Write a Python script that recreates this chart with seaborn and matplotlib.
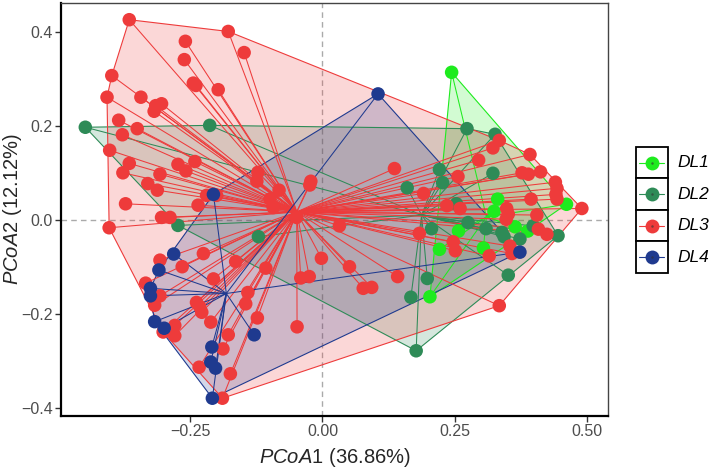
import matplotlib
matplotlib.use('Agg')
import warnings
warnings.filterwarnings("ignore")

import numpy as np
import pandas as pd
import matplotlib.pyplot as plt
import seaborn as sns
from matplotlib.collections import LineCollection
from matplotlib.patches import Rectangle

# ==========================================
# 1. DATA (PCoA scores)
# ==========================================
dl1_x = [0.244, 0.331, 0.461, 0.324, 0.257, 0.221, 0.304, 0.203, 0.364, 0.388]
dl1_y = [0.314, 0.044, 0.033, 0.018, -0.024, -0.063, -0.060, -0.164, -0.015, -0.024]

dl2_x = [-0.448, -0.213, -0.273, -0.121, 0.273, 0.326, 0.322, 0.221, 0.227, 0.160,
         0.253, 0.206, 0.275, 0.309, 0.339, 0.343, 0.373, 0.398, 0.445, 0.351,
         0.198, 0.167, 0.177]
dl2_y = [0.197, 0.201, -0.012, -0.036, 0.194, 0.182, 0.099, 0.107, 0.079, 0.068,
         0.034, -0.019, -0.006, -0.019, -0.027, -0.036, -0.041, -0.013, -0.034, -0.118,
         -0.125, -0.165, -0.279]

dl3_x = [-0.365, -0.178, -0.259, -0.148, -0.261, -0.244, -0.239, -0.197, -0.398, -0.407,
         -0.343, -0.304, -0.315, -0.318, -0.385, -0.350, -0.378, -0.402, -0.365, -0.377,
         -0.307, -0.273, -0.258, -0.241, -0.330, -0.312, -0.372, -0.235, -0.219, -0.200,
         -0.122, -0.124, -0.082, -0.099, -0.093, -0.022, -0.024, -0.049, -0.304, -0.288,
         -0.403, 0.032, 0.334, 0.322, 0.295, 0.392, 0.377, 0.389, 0.412, 0.440,
         0.443, 0.441, 0.443, 0.394, 0.256, 0.191, 0.136, 0.235, 0.260, 0.348,
         0.351, 0.347, 0.405, 0.490, 0.408, 0.424, 0.183, 0.247, 0.251, 0.354,
         0.358, 0.315, 0.051, 0.142, 0.077, 0.093, 0.334, -0.225, -0.307, -0.265,
         -0.164, -0.107, -0.002, -0.041, -0.025, -0.334, -0.206, -0.141, -0.145, -0.238,
         -0.232, -0.228, -0.317, -0.307, -0.211, -0.123, -0.048, -0.279, -0.279, -0.301,
         -0.178, -0.188, -0.233, -0.174, -0.189]
dl3_y = [0.426, 0.401, 0.380, 0.356, 0.341, 0.291, 0.286, 0.277, 0.307, 0.261,
         0.261, 0.247, 0.243, 0.231, 0.212, 0.194, 0.181, 0.148, 0.120, 0.100,
         0.097, 0.118, 0.104, 0.124, 0.077, 0.063, 0.034, 0.031, 0.052, 0.052,
         0.101, 0.082, 0.063, 0.044, 0.026, 0.082, 0.074, 0.005, 0.005, 0.005,
         -0.017, -0.013, 0.169, 0.153, 0.127, 0.139, 0.100, 0.097, 0.102, 0.080,
         0.067, 0.054, 0.044, 0.044, 0.092, 0.056, 0.109, 0.030, 0.024, 0.024,
         0.012, 0.001, 0.010, 0.024, -0.020, -0.031, -0.029, -0.047, -0.066, -0.056,
         -0.072, -0.077, -0.100, -0.121, -0.146, -0.144, -0.183, -0.072, -0.086, -0.100,
         -0.089, -0.103, -0.082, -0.124, -0.121, -0.135, -0.126, -0.155, -0.179, -0.176,
         -0.185, -0.197, -0.182, -0.162, -0.218, -0.209, -0.228, -0.225, -0.247, -0.239,
         -0.245, -0.275, -0.314, -0.328, -0.380]

dl4_x = [0.105, -0.206, -0.281, -0.309, -0.325, -0.325, -0.317, -0.299, -0.129, -0.209,
         -0.211, -0.202, -0.208, 0.373]
dl4_y = [0.268, 0.054, -0.073, -0.107, -0.146, -0.162, -0.217, -0.231, -0.245, -0.271,
         -0.303, -0.316, -0.380, -0.069]

groups = ["DL1", "DL2", "DL3", "DL4"]
colors = ["#1EEB1E", "#2E8B57", "#EE3B3B", "#1F3A8F"]
xlab_pct = "36.86%"
ylab_pct = "12.12%"

df = pd.concat([
    pd.DataFrame({"PCoA1": dl1_x, "PCoA2": dl1_y, "group": "DL1"}),
    pd.DataFrame({"PCoA1": dl2_x, "PCoA2": dl2_y, "group": "DL2"}),
    pd.DataFrame({"PCoA1": dl3_x, "PCoA2": dl3_y, "group": "DL3"}),
    pd.DataFrame({"PCoA1": dl4_x, "PCoA2": dl4_y, "group": "DL4"}),
], ignore_index=True)
palette = dict(zip(groups, colors))


def convex_hull(pts):
    pts = sorted(set(map(tuple, pts)))
    if len(pts) < 3:
        return np.array(pts)

    def cross(o, a, b):
        return (a[0] - o[0]) * (b[1] - o[1]) - (a[1] - o[1]) * (b[0] - o[0])

    lower, upper = [], []
    for p in pts:
        while len(lower) >= 2 and cross(lower[-2], lower[-1], p) <= 0:
            lower.pop()
        lower.append(p)
    for p in reversed(pts):
        while len(upper) >= 2 and cross(upper[-2], upper[-1], p) <= 0:
            upper.pop()
        upper.append(p)
    return np.array(lower[:-1] + upper[:-1])


# ==========================================
# 2. PLOT
# ==========================================
sns.set_style("white")
plt.rcParams['font.family'] = ['Liberation Sans', 'DejaVu Sans']
plt.rcParams['mathtext.fontset'] = 'custom'
plt.rcParams['mathtext.rm'] = 'Liberation Sans'
plt.rcParams['mathtext.it'] = 'Liberation Sans:italic'

fig = plt.figure(figsize=(7.09, 4.68), dpi=100)
ax = fig.add_axes([0.086, 0.111, 0.772, 0.883])

ax.axhline(0, color="#AAAAAA", ls=(0, (4, 3)), lw=1, zorder=0)
ax.axvline(0, color="#AAAAAA", ls=(0, (4, 3)), lw=1, zorder=0)

# hulls
for g in groups:
    sub = df[df["group"] == g][["PCoA1", "PCoA2"]].values
    hull = convex_hull(sub)
    ax.fill(hull[:, 0], hull[:, 1], facecolor=palette[g], alpha=0.2,
            edgecolor="none", zorder=1)
    closed = np.vstack([hull, hull[:1]])
    ax.plot(closed[:, 0], closed[:, 1], color=palette[g], lw=0.8, zorder=2)

# spiders to centroid
for g in groups:
    sub = df[df["group"] == g][["PCoA1", "PCoA2"]].values
    cen = sub.mean(axis=0)
    segs = [[cen, p] for p in sub]
    ax.add_collection(LineCollection(segs, colors=palette[g], linewidths=0.75, zorder=3))

sns.scatterplot(data=df, x="PCoA1", y="PCoA2", hue="group", palette=palette,
                hue_order=groups, s=95, linewidth=0, alpha=1, legend=False,
                ax=ax, zorder=4)

ax.set_xlim(-0.494, 0.540)
ax.set_ylim(-0.418, 0.462)
ax.set_xticks([-0.25, 0.0, 0.25, 0.50])
ax.set_xticklabels(["\u22120.25", "0.00", "0.25", "0.50"])
ax.set_yticks([-0.4, -0.2, 0.0, 0.2, 0.4])
ax.set_yticklabels(["\u22120.4", "\u22120.2", "0.0", "0.2", "0.4"])
ax.tick_params(axis="both", direction="out", length=4, width=1, color="#333333",
               labelsize=11.5, labelcolor="#4D4D4D", bottom=True, left=True, pad=2)

for side in ["left", "bottom"]:
    ax.spines[side].set_color("black")
    ax.spines[side].set_linewidth(1.6)
for side in ["top", "right"]:
    ax.spines[side].set_color("#444444")
    ax.spines[side].set_linewidth(1.0)

ax.set_xlabel(r"$\it{PCoA1}$ (" + xlab_pct + ")", fontsize=14.5)
ax.set_ylabel(r"$\it{PCoA2}$ (" + ylab_pct + ")", fontsize=14.5)
ax.xaxis.set_label_coords(0.5, -0.072)
ax.yaxis.set_label_coords(-0.067, 0.5)

# ==========================================
# 3. LEGEND (boxed keys)
# ==========================================
lax = fig.add_axes([0.8966, 0.417, 0.0451, 0.269])
lax.set_xlim(0, 1)
lax.set_ylim(0, len(groups))
lax.axis("off")
for i, g in enumerate(groups):
    yc = len(groups) - i - 0.5
    lax.add_patch(Rectangle((0, yc - 0.5), 1, 1, facecolor="white", edgecolor="black",
                            lw=1.3, clip_on=False))
    lax.plot([0.1, 0.9], [yc, yc], color=palette[g], lw=0.8)
    lax.plot([0.5], [yc], marker="o", ms=10, color=palette[g], mec="none")
    lax.plot([0.5], [yc], marker="o", ms=1.8, color="#333333", mec="none", alpha=0.6)
    lax.text(1.3, yc, g, fontsize=12.5, style="italic", va="center", ha="left",
             color="black", clip_on=False)

plt.savefig("out.png", dpi=100)
plt.close()
